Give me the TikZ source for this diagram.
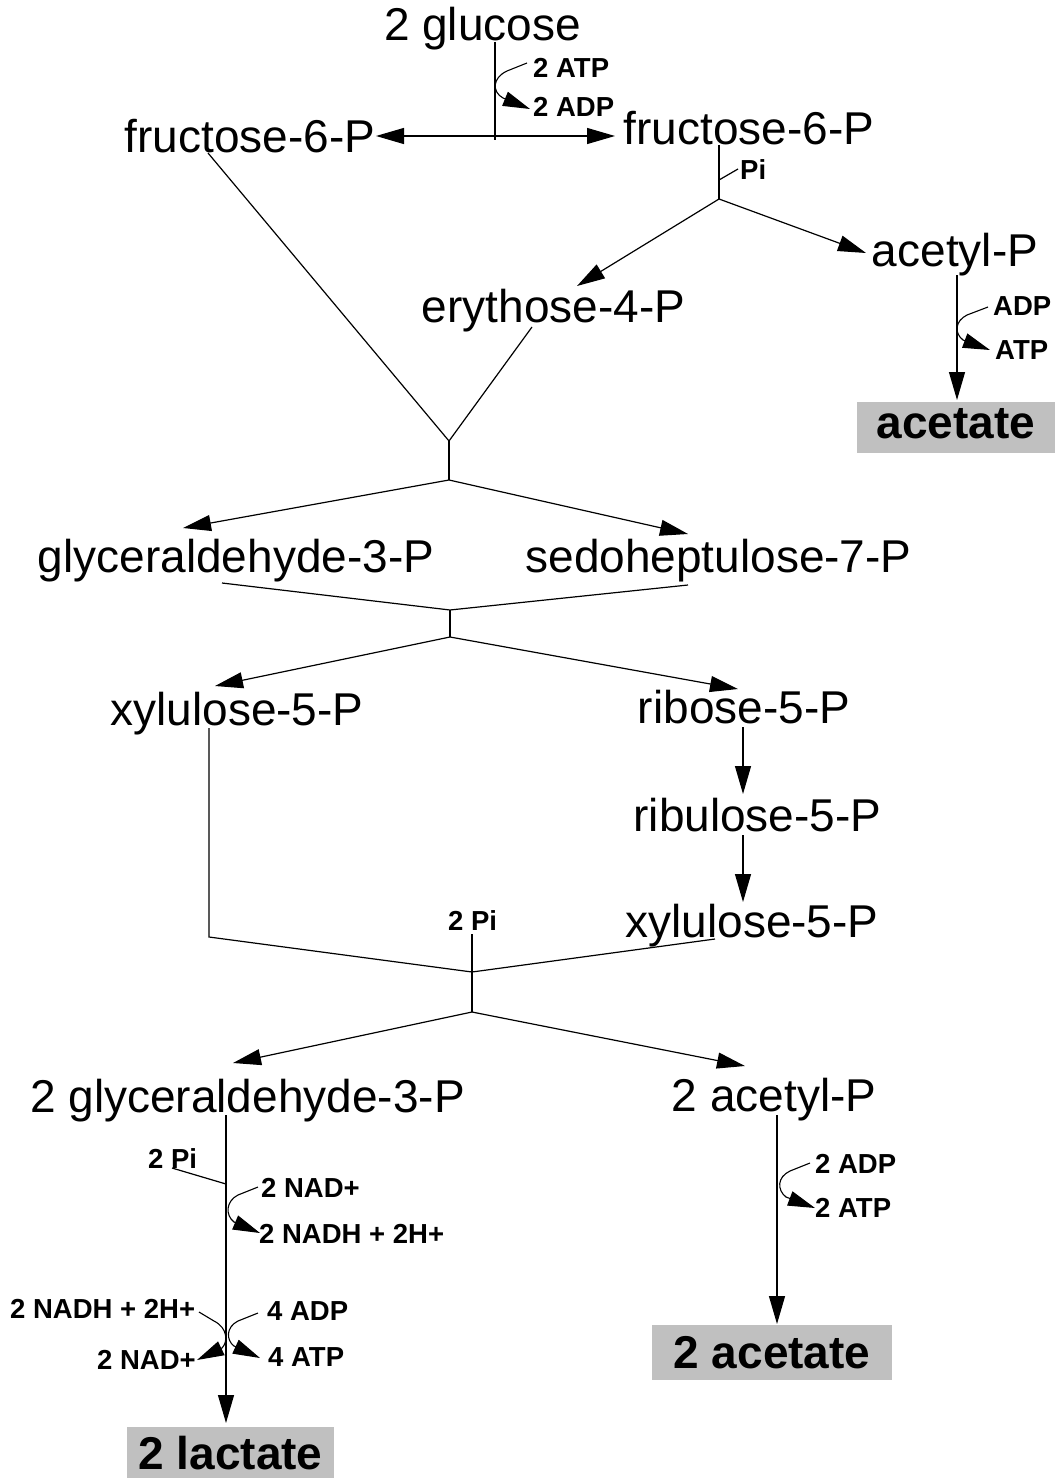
\documentclass[tikz,border=0pt]{standalone}
\usepackage{fontspec}
\setmainfont{Liberation Sans}
\usetikzlibrary{arrows.meta}
\definecolor{boxgray}{HTML}{C0C0C0}
\begin{document}
\begin{tikzpicture}[x=1pt,y=-1pt,
  met/.style={font=\fontsize{46}{50}\selectfont, inner sep=0pt, anchor=base},
  cof/.style={font=\bfseries\fontsize{27.5}{30}\selectfont, inner sep=0pt, anchor=base west},
  prod/.style={fill=boxgray, font=\bfseries\fontsize{46}{50}\selectfont, inner sep=0pt},
  link/.style={line width=1.2pt},
  flow/.style={line width=1.2pt, -{Triangle[length=28pt,width=16pt]}},
  side/.style={line width=1.1pt, -{Triangle[length=27pt,width=15pt]}}]
\useasboundingbox (0,0) rectangle (1060,1479);

% metabolites
\node[met] (glc)   at (482.5,41)  {2 glucose};
\node[met] (f6pL)  at (250,153)   {fructose-6-P};
\node[met] (f6pR)  at (749,145)   {fructose-6-P};
\node[met] (acp)   at (955,266)   {acetyl-P};
\node[met] (e4p)   at (553.5,322) {erythose-4-P};
\node[met] (g3p)   at (236,572)   {glyceraldehyde-3-P};
\node[met] (s7p)   at (718.5,572) {sedoheptulose-7-P};
\node[met] (xu5pL) at (237,725)   {xylulose-5-P};
\node[met] (r5p)   at (744,723)   {ribose-5-P};
\node[met] (ru5p)  at (757.5,831) {ribulose-5-P};
\node[met] (xu5pR) at (752,937)   {xylulose-5-P};
\node[met] (g3p2)  at (247.5,1112){2 glyceraldehyde-3-P};
\node[met] (acp2)  at (774,1111)  {2 acetyl-P};

% end products
\node[prod, minimum width=198pt, minimum height=51pt, text height=33pt, text depth=11pt] (ace) at (956,427) {acetate};
\node[prod, minimum width=207pt, minimum height=51pt, text height=36pt, text depth=3pt] (lac) at (230.5,1452.5) {2 lactate};
\node[prod, minimum width=240pt, minimum height=55pt, text height=35pt, text depth=4pt] (ace2) at (772,1352.5) {2 acetate};

% cofactors
\node[cof] (atpA) at (533,78)   {2 ATP};
\node[cof] (adpA) at (533,117)  {2 ADP};
\node[cof] (piA)  at (740,180)  {Pi};
\node[cof] (adpB) at (993,315)  {ADP};
\node[cof] (atpB) at (995,359)  {ATP};
\node[cof] (piB)  at (448,930)  {2 Pi};
\node[cof] (piC)  at (148,1168) {2 Pi};
\node[cof] (nadA) at (261,1197) {2 NAD+};
\node[cof] (nadhA) at (259,1243) {2 NADH + 2H+};
\node[cof] (nadhB) at (10,1318) {2 NADH + 2H+};
\node[cof] (nadB) at (97,1369)  {2 NAD+};
\node[cof] (adpC) at (267,1320) {4 ADP};
\node[cof] (atpC) at (268,1366) {4 ATP};
\node[cof] (adpD) at (815,1173) {2 ADP};
\node[cof] (atpD) at (815,1217) {2 ATP};

% connector end points and junctions
\coordinate (glcS) at (495,42);
\coordinate (glcE) at (495,140);
\coordinate (hx)   at (495,136);
\coordinate (f6pLt) at (376,136);
\coordinate (f6pRt) at (615,136);
\coordinate (f6pRs) at (719,145);
\coordinate (piAj) at (719,180);
\coordinate (piAe) at (738,169);
\coordinate (jF)   at (719,199);
\coordinate (e4pt) at (577,286);
\coordinate (acpt) at (866,253);
\coordinate (acps) at (957,275);
\coordinate (acet) at (957,400);
\coordinate (f6pLs) at (208,153);
\coordinate (e4ps) at (532,327);
\coordinate (jA)   at (449,441);
\coordinate (jB)   at (449,480);
\coordinate (g3pt) at (183,528);
\coordinate (s7pt) at (688,534);
\coordinate (g3ps) at (222,583);
\coordinate (s7ps) at (688,585);
\coordinate (jC)   at (450,610);
\coordinate (jD)   at (450,637);
\coordinate (xuLt) at (215,686);
\coordinate (r5pt) at (738,689);
\coordinate (r5ps) at (743,727);
\coordinate (ru5pt) at (743,794);
\coordinate (ru5ps) at (743,835);
\coordinate (xuRt) at (743,902);
\coordinate (xuLs) at (209,728);
\coordinate (xuLc) at (209,937);
\coordinate (xuRs) at (715,939);
\coordinate (piBs) at (472,934);
\coordinate (jE)   at (472,972);
\coordinate (jG)   at (472,1012);
\coordinate (g32t) at (233,1063);
\coordinate (acp2t) at (745,1066);
\coordinate (g32s) at (226,1115);
\coordinate (lact) at (226,1423);
\coordinate (piCs) at (172,1168);
\coordinate (piCe) at (226,1184);
\coordinate (acp2s) at (777,1115);
\coordinate (ace2t) at (777,1324);

% glucose to fructose-6-P
\draw[link] (glcS) -- (glcE);
\draw[flow] (hx) -- (f6pLt);
\draw[flow] (hx) -- (f6pRt);
\draw[side] (527,63) -- (507,71) .. controls (492,78) and (492,92) .. (503,98) -- (530,109);

% phosphoketolase split
\draw[link] (f6pRs) -- (jF);
\draw[link] (piAj) -- (piAe);
\draw[flow] (jF) -- (e4pt);
\draw[flow] (jF) -- (acpt);
\draw[flow] (acps) -- (acet);
\draw[side] (988,307) -- (967,315) .. controls (955,321) and (954,333) .. (963,340) -- (990,350);

% transaldolase
\draw[link] (f6pLs) -- (jA) -- (e4ps);
\draw[link] (jA) -- (jB);
\draw[flow] (jB) -- (g3pt);
\draw[flow] (jB) -- (s7pt);

% transketolase
\draw[link] (g3ps) -- (jC) -- (s7ps);
\draw[link] (jC) -- (jD);
\draw[flow] (jD) -- (xuLt);
\draw[flow] (jD) -- (r5pt);
\draw[flow] (r5ps) -- (ru5pt);
\draw[flow] (ru5ps) -- (xuRt);

% second phosphoketolase split
\draw[link] (xuLs) -- (xuLc) -- (jE) -- (xuRs);
\draw[link] (piBs) -- (jE);
\draw[link] (jE) -- (jG);
\draw[flow] (jG) -- (g32t);
\draw[flow] (jG) -- (acp2t);

% lactate branch
\draw[flow] (g32s) -- (lact);
\draw[link] (piCs) -- (piCe);
\draw[side] (258,1187) -- (238,1195) .. controls (226,1201) and (225,1215) .. (234,1222) -- (260,1233);
\draw[side] (199,1312) -- (214,1321) .. controls (228,1328) and (228,1342) .. (222,1348) -- (197,1360);
\draw[side] (258,1313) -- (238,1321) .. controls (226,1327) and (226,1340) .. (234,1346) -- (260,1358);

% acetate branch
\draw[flow] (acp2s) -- (ace2t);
\draw[side] (810,1163) -- (790,1171) .. controls (777,1177) and (777,1190) .. (786,1197) -- (815,1208);
\end{tikzpicture}
\end{document}
